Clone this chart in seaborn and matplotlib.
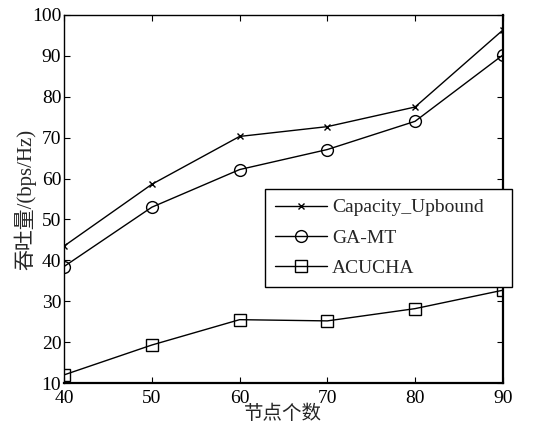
import matplotlib
matplotlib.use("Agg")
import matplotlib.pyplot as plt
from matplotlib.patches import Rectangle
import seaborn as sns
import pandas as pd

nodes = [40, 50, 60, 70, 80, 90]
capacity_upbound = [43.5, 58.6, 70.3, 72.7, 77.5, 96.3]
ga_mt = [38.5, 53.0, 62.2, 67.1, 74.0, 90.2]
acucha = [12.0, 19.3, 25.5, 25.2, 28.2, 32.7]
series_names = ["Capacity_Upbound", "GA-MT", "ACUCHA"]
y_ticks = [10, 20, 30, 40, 50, 60, 70, 80, 90, 100]
x_label = "节点个数"
y_label = "吞吐量/(bps/Hz)"

sns.set_style("ticks")
plt.rcParams["font.family"] = ["Liberation Serif", "Noto Sans CJK SC"]
plt.rcParams["xtick.direction"] = "in"
plt.rcParams["ytick.direction"] = "in"

fig = plt.figure(figsize=(5.43, 4.28), dpi=100)
ax = fig.add_axes([0.118, 0.105, 0.808, 0.86])

markers = ["x", "o", "s"]
sizes = [5, 8.5, 8]
for name, vals, m, ms in zip(series_names, [capacity_upbound, ga_mt, acucha], markers, sizes):
    df = pd.DataFrame({"x": nodes, "y": vals})
    sns.lineplot(data=df, x="x", y="y", ax=ax, color="black", marker=m,
                 markersize=ms, markerfacecolor="none", markeredgecolor="black",
                 markeredgewidth=1.0, linewidth=1.0, label=name)

ax.set_xlim(40, 90)
ax.set_ylim(10, 100)
ax.set_xticks(nodes)
ax.set_yticks(y_ticks)
ax.tick_params(axis="both", which="both", top=True, right=True, length=4,
               labelsize=14, colors="black")
ax.tick_params(axis="y", pad=2)
ax.tick_params(axis="x", pad=5)
for sp in ax.spines.values():
    sp.set_linewidth(1.0)
    sp.set_color("black")
ax.spines["bottom"].set_linewidth(1.6)
ax.spines["right"].set_linewidth(1.6)

ax.set_xlabel(x_label, fontsize=14, family=["Liberation Serif", "Noto Sans CJK SC"], labelpad=-2)
ax.set_ylabel(y_label, fontsize=15, family=["Liberation Serif", "Noto Sans CJK SC"], labelpad=-3)

leg = ax.legend(loc="upper left", bbox_to_anchor=(0.458, 0.527), fontsize=14,
                frameon=False, borderpad=0.5, labelspacing=0.65, handlelength=2.7,
                handletextpad=0.25, borderaxespad=0)
leg.set_zorder(10)

# frame with extra room on the right, as in the reference legend box
fig.canvas.draw()
bb = leg.get_window_extent().transformed(fig.transFigure.inverted())
extra = 18 / fig.bbox.width
frame = Rectangle((bb.x0, bb.y0), bb.width + extra, bb.height,
                  transform=fig.transFigure, fill=True, facecolor="white",
                  edgecolor="black", linewidth=1.0, zorder=9, clip_on=False)
ax.add_artist(frame)

fig.savefig("out.png", dpi=100)
